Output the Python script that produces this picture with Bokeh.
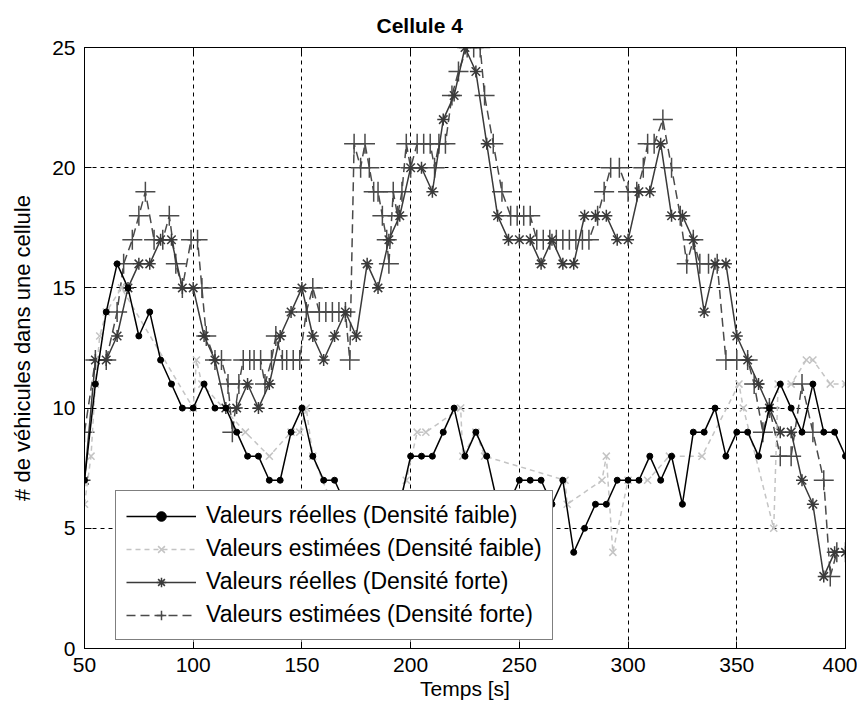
from bokeh.plotting import figure
from bokeh.models import Legend, LegendItem, LinearAxis, Range1d, FixedTicker
from bokeh.embed import file_html
from bokeh.resources import INLINE

# ---- data -------------------------------------------------------------
t_low_real = [50, 55, 60, 65, 70, 75, 80, 85, 90, 95,
              100, 105, 110, 115, 120, 125, 130, 135, 140, 145,
              150, 155, 160, 165, 170, 175, 180, 185, 190, 195,
              200, 205, 210, 215, 220, 225, 230, 235, 240, 245,
              250, 255, 260, 265, 270, 275, 280, 285, 290, 295,
              300, 305, 310, 315, 320, 325, 330, 335, 340, 345,
              350, 355, 360, 365, 370, 375, 380, 385, 390, 395, 400]
v_low_real = [7, 11, 14, 16, 15, 13, 14, 12, 11, 10,
              10, 11, 10, 10, 9, 8, 8, 7, 7, 9,
              10, 8, 7, 7, 6, 5, 5, 6, 5, 6,
              8, 8, 8, 9, 10, 8, 9, 8, 6, 6,
              7, 7, 7, 6, 7, 4, 5, 6, 6, 7,
              7, 7, 8, 7, 8, 6, 9, 9, 10, 8,
              9, 9, 8, 10, 11, 10, 9, 11, 9, 9, 8]

t_low_est = [50, 53, 55, 57, 60, 67, 100, 101.5, 104, 124,
             135, 145, 149, 152, 155, 164, 170, 180, 190, 198,
             203, 207, 223, 224, 230, 234, 271, 272, 288, 290,
             293, 300, 309, 319, 334, 351, 353, 367, 369, 375,
             382, 385, 393, 400]
v_low_est = [6, 8, 11, 13, 14, 15, 10, 12, 11, 9,
             8, 9, 9, 10, 8, 6, 5, 5, 5, 7,
             9, 9, 10, 8, 9, 8, 7, 6, 7, 8,
             4, 7, 7, 8, 8, 11, 10, 5, 11, 11,
             12, 12, 11, 11]

t_high_real = [50, 55, 60, 65, 70, 75, 80, 85, 90, 95,
               100, 105, 110, 115, 120, 125, 130, 135, 140, 145,
               150, 155, 160, 165, 170, 175, 180, 185, 190, 195,
               200, 205, 210, 215, 220, 225, 230, 235, 240, 245,
               250, 255, 260, 265, 270, 275, 280, 285, 290, 295,
               300, 305, 310, 315, 320, 325, 330, 335, 340, 345,
               350, 355, 360, 365, 370, 375, 380, 385, 390, 395, 400]
v_high_real = [7, 12, 12, 13, 15, 16, 16, 17, 17, 15,
               15, 13, 12, 10, 10, 11, 10, 11, 13, 14,
               15, 13, 12, 13, 14, 13, 16, 15, 17, 18,
               20, 20, 19, 22, 23, 25, 24, 21, 18, 17,
               17, 17, 16, 17, 16, 16, 18, 18, 18, 17,
               17, 19, 19, 21, 18, 18, 17, 14, 16, 16,
               13, 12, 11, 10, 9, 9, 7, 6, 3, 4, 4]

t_high_est = [50, 55, 60, 65, 68, 72, 75, 78, 82, 86,
              89, 92, 95, 99, 102, 104, 106, 110, 113, 116,
              118, 121, 123, 126, 128, 131, 133, 136, 138, 141,
              143, 146, 149, 152, 155, 158, 161, 164, 167, 170,
              172, 174, 177, 179, 181, 183, 185, 187, 189, 190,
              192, 194, 196, 198, 200, 203, 206, 209, 211, 213,
              216, 219, 222, 226, 229, 232, 234, 238, 242, 246,
              249, 252, 255, 258, 261, 264, 267, 270, 273, 276,
              279, 282, 286, 289, 292, 296, 300, 304, 307, 309,
              312, 316, 320, 324, 327, 330, 333, 337, 341, 345,
              350, 355, 358, 362, 365, 370, 375, 380, 385, 390,
              393, 396, 400]
v_high_est = [9, 12, 12, 14, 16, 17, 18, 19, 17, 17,
              18, 16, 15, 17, 17, 15, 13, 12, 12, 11,
              9, 11, 12, 12, 12, 12, 11, 12, 13, 12,
              12, 12, 12, 14, 15, 14, 14, 14, 14, 14,
              12, 21, 20, 21, 20, 19, 19, 18, 17, 16,
              19, 18, 19, 21, 20, 21, 21, 21, 20, 21,
              21, 23, 24, 25, 25, 25, 23, 21, 19, 18,
              18, 18, 18, 17, 17, 17, 17, 17, 17, 17,
              17, 17, 18, 19, 20, 20, 19, 19, 20, 21,
              21, 22, 20, 18, 16, 17, 16, 16, 16, 12,
              12, 12, 11, 9, 10, 8, 8, 11, 9, 7,
              3, 4, 4]

x_ticks = [50, 100, 150, 200, 250, 300, 350, 400]
y_ticks = [0, 5, 10, 15, 20, 25]

labels = ["Valeurs réelles (Densité faible)",
          "Valeurs estimées (Densité faible)",
          "Valeurs réelles (Densité forte)",
          "Valeurs estimées (Densité forte)"]

FONT = "Liberation Sans"

# ---- figure -----------------------------------------------------------
p = figure(width=857, height=706, output_backend="svg", toolbar_location=None,
           x_range=Range1d(50, 400), y_range=Range1d(0, 25),
           min_border_left=84, min_border_right=12, min_border_top=46,
           min_border_bottom=58, background_fill_color="white",
           border_fill_color="white")

p.title.text = "Cellule 4"
p.title.align = "left"
p.title.offset = 292
p.title.text_font = FONT
p.title.text_font_size = "21px"
p.title.text_font_style = "bold"
p.title.text_color = "black"
p.title.standoff = 22

p.outline_line_color = "black"
p.outline_line_width = 1

for ax in (p.xaxis[0], p.yaxis[0]):
    ax.major_tick_in = 7
    ax.major_tick_out = 0
    ax.minor_tick_in = 0
    ax.minor_tick_out = 0
    ax.axis_line_color = "black"
    ax.major_tick_line_color = "black"
    ax.major_label_text_font = FONT
    ax.major_label_text_font_size = "21px"
    ax.major_label_text_color = "black"
    ax.axis_label_text_font = FONT
    ax.axis_label_text_font_size = "21px"
    ax.axis_label_text_font_style = "normal"
    ax.axis_label_text_color = "black"

p.xaxis.ticker = FixedTicker(ticks=x_ticks)
p.yaxis.ticker = FixedTicker(ticks=y_ticks)
p.xaxis.axis_label = "Temps [s]"
p.yaxis.axis_label = "# de véhicules dans une cellule"
p.yaxis.axis_label_text_font_size = "22px"
p.xaxis.major_label_standoff = 9
p.xaxis.axis_label_standoff = 2
p.yaxis.major_label_standoff = 9
p.yaxis.axis_label_standoff = 14

# inward tick marks on the top and right edges of the box
top = LinearAxis(ticker=FixedTicker(ticks=x_ticks),
                 major_label_overrides={t: "" for t in x_ticks},
                 major_tick_in=7, major_tick_out=0, minor_tick_in=0, minor_tick_out=0,
                 major_label_standoff=0, axis_line_color="black")
right = LinearAxis(ticker=FixedTicker(ticks=y_ticks),
                   major_label_overrides={t: "" for t in y_ticks},
                   major_tick_in=7, major_tick_out=0, minor_tick_in=0, minor_tick_out=0,
                   major_label_standoff=0, axis_line_color="black")
p.add_layout(top, "above")
p.add_layout(right, "right")

for g in (p.xgrid[0], p.ygrid[0]):
    g.grid_line_color = "black"
    g.grid_line_alpha = 1
    g.grid_line_dash = "4 4"
    g.grid_line_width = 1
p.xgrid.ticker = FixedTicker(ticks=x_ticks)
p.ygrid.ticker = FixedTicker(ticks=y_ticks)

# ---- series -----------------------------------------------------------
C_HIGH = "#3a3a3a"
C_HEST = "#4a4a4a"
C_LEST = "#c4c4c4"

l4 = p.line(t_high_est, v_high_est, line_color=C_HEST, line_width=1.5, line_dash="9 5")
s4 = p.scatter(t_high_est, v_high_est, marker="cross", size=20, line_color=C_HEST, line_width=1.5)

l3 = p.line(t_high_real, v_high_real, line_color=C_HIGH, line_width=1.5)
s3 = p.scatter(t_high_real, v_high_real, marker="asterisk", size=12, line_color=C_HIGH, line_width=1.5)

l2 = p.line(t_low_est, v_low_est, line_color=C_LEST, line_width=1.5, line_dash="5 4")
s2 = p.scatter(t_low_est, v_low_est, marker="x", size=10, line_color=C_LEST, line_width=1.5)

l1 = p.line(t_low_real, v_low_real, line_color="black", line_width=1.5)
s1 = p.scatter(t_low_real, v_low_real, marker="circle", size=6, line_color="black",
               fill_color="black")

legend = Legend(items=[LegendItem(label=labels[0], renderers=[l1, s1]),
                       LegendItem(label=labels[1], renderers=[l2, s2]),
                       LegendItem(label=labels[2], renderers=[l3, s3]),
                       LegendItem(label=labels[3], renderers=[l4, s4])],
                location=(31, 8), orientation="vertical",
                label_text_font=FONT, label_text_font_size="23px",
                label_text_color="black",
                glyph_width=70, glyph_height=24, label_height=29,
                label_standoff=10, padding=10, spacing=4, margin=0,
                border_line_color="black", border_line_width=1,
                background_fill_color="white", background_fill_alpha=1)
p.add_layout(legend, "center")

open("out.html", "w").write(file_html(p, INLINE))
